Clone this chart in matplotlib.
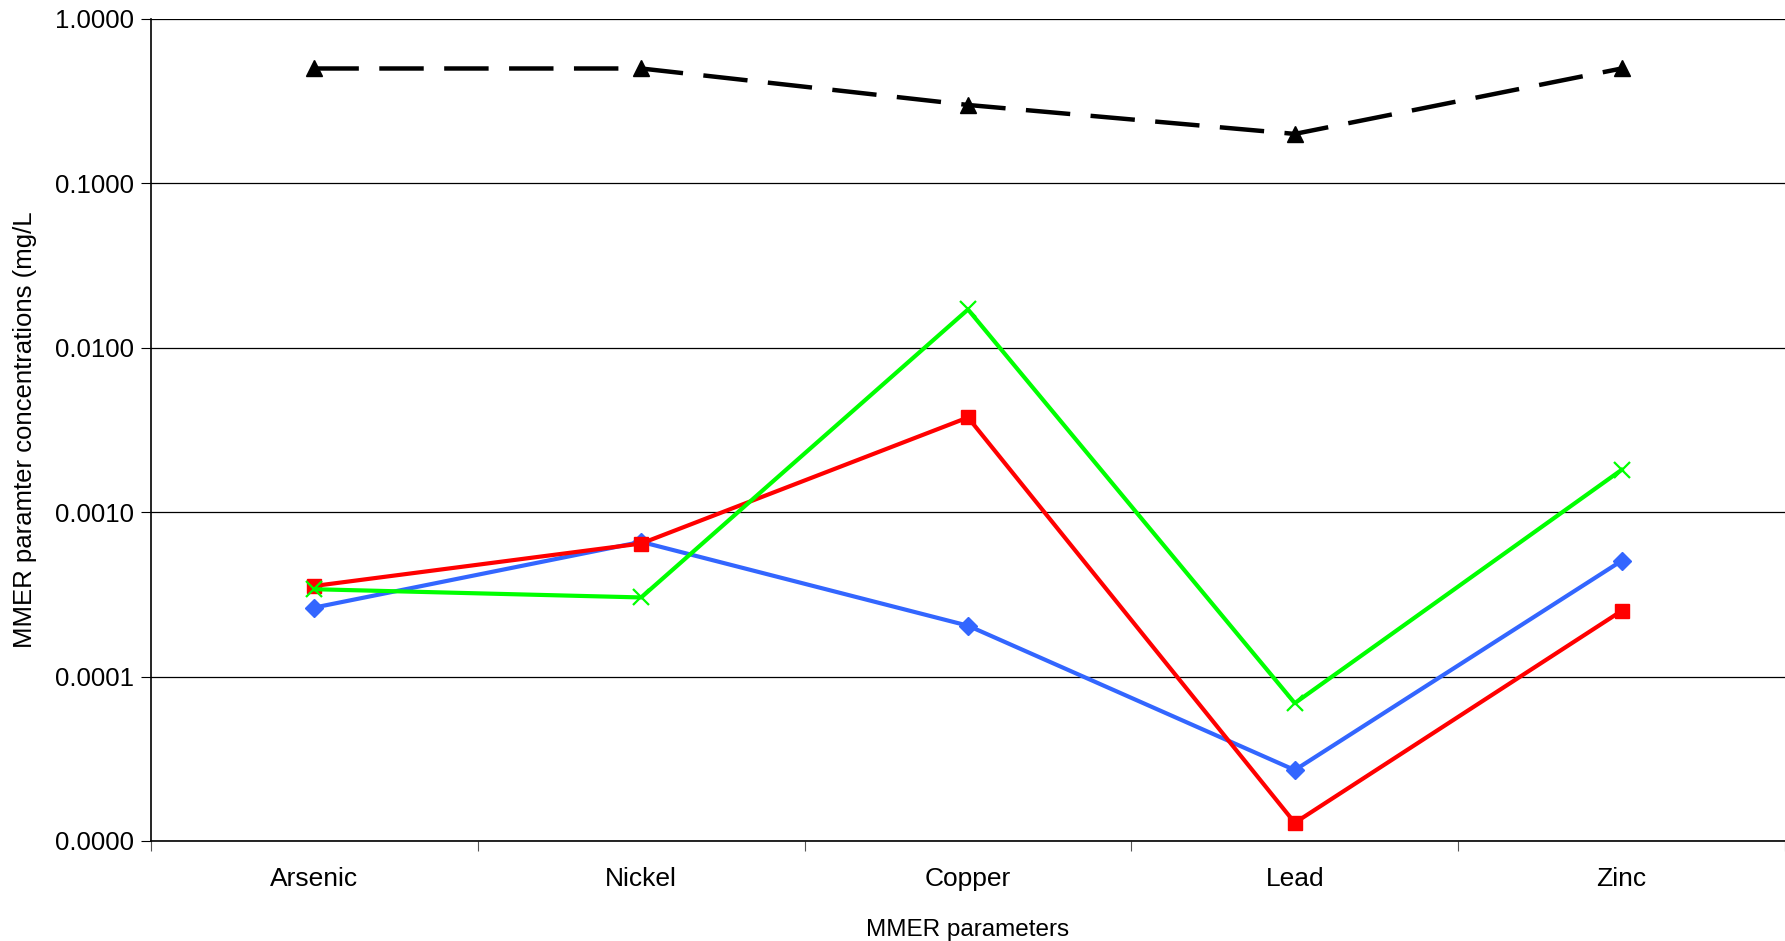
import numpy as np
import matplotlib
matplotlib.use("Agg")
import matplotlib.pyplot as plt
from matplotlib.ticker import FixedLocator, FuncFormatter, NullLocator

plt.rcParams['font.family'] = ['Liberation Sans', 'DejaVu Sans']

categories = ["Arsenic", "Nickel", "Copper", "Lead", "Zinc"]
blue_vals = [0.000263, 0.00066, 0.000204, 0.000027, 0.000506]
red_vals = [0.000356, 0.000645, 0.00377, 0.0000129, 0.000251]
green_vals = [0.00034, 0.000303, 0.0171, 0.0000689, 0.00181]
limit_vals = [0.5, 0.5, 0.3, 0.2, 0.5]
y_ticks = [1e-5, 1e-4, 1e-3, 1e-2, 1e-1, 1.0]

fig = plt.figure(figsize=(17.85, 9.41), dpi=100)
ax = fig.add_axes([151 / 1785, 100 / 941, 1 - 151 / 1785, 822 / 941])

x = np.arange(len(categories))

ax.plot(x, blue_vals, color="#3366FF", lw=3, marker="D", ms=9, zorder=3)
ax.plot(x, red_vals, color="#FF0000", lw=3, marker="s", ms=10, zorder=4)
ax.plot(x, green_vals, color="#00FF00", lw=3, marker="x", ms=12, mew=1.6, zorder=5)
ax.plot(x, limit_vals, color="black", lw=3.2, ls=(0, (10, 4.6)), marker="^", ms=12, zorder=6)

ax.set_yscale("log")
ax.set_ylim(1e-5, 1.0)
ax.yaxis.set_major_locator(FixedLocator(y_ticks))
ax.yaxis.set_minor_locator(NullLocator())
ax.yaxis.set_major_formatter(FuncFormatter(lambda v, p: f"{v:.4f}"))
ax.grid(axis="y", color="black", lw=0.9)
ax.set_axisbelow(True)

ax.set_xlim(-0.5, len(categories) - 0.5)
ax.set_xticks(np.arange(-0.5, len(categories)))
ax.set_xticklabels([])
ax.set_xticks(x, minor=True)
ax.set_xticklabels(categories, minor=True)
ax.tick_params(axis="x", which="major", length=7, color="#555555")
ax.tick_params(axis="x", which="minor", length=0, pad=19, labelsize=19)
ax.tick_params(axis="y", length=7, pad=5, labelsize=18.5)

for side in ["top", "right"]:
    ax.spines[side].set_visible(False)
ax.spines["left"].set_linewidth(1.2)
ax.spines["bottom"].set_linewidth(1.2)

ax.set_xlabel("MMER parameters", fontsize=17.5, labelpad=20)
ax.set_ylabel("MMER paramter concentrations (mg/L", fontsize=18.5)
ax.yaxis.set_label_coords(-0.07, 0.5)

fig.savefig("out.png", dpi=100)
